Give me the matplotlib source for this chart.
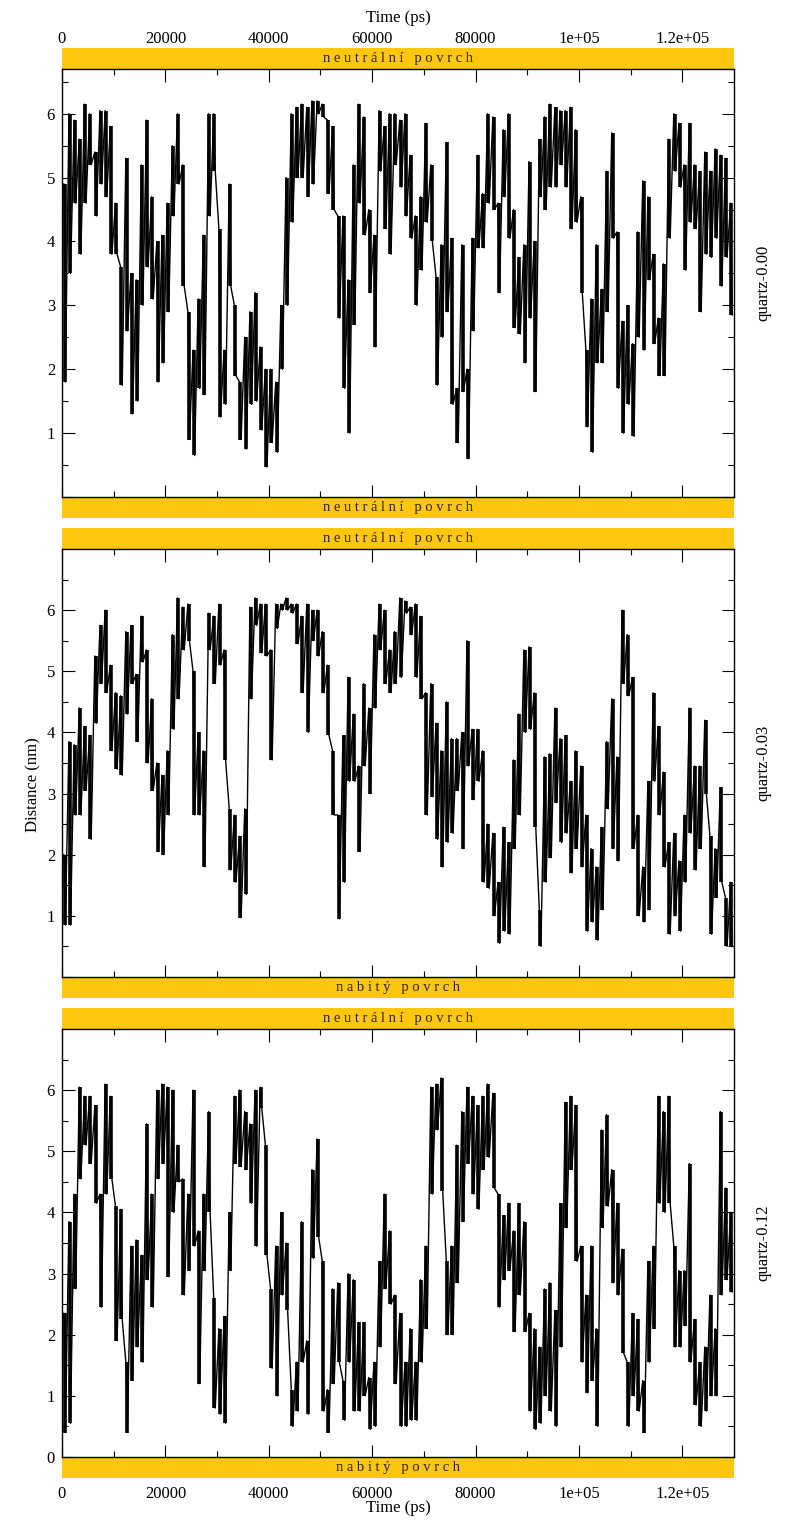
import numpy as np
import matplotlib
matplotlib.use('Agg')
import matplotlib.pyplot as plt
from matplotlib.patches import Rectangle

plt.rcParams['font.family'] = ['Liberation Serif', 'DejaVu Serif']

# trace read column by column (1000 ps per column): lowest and highest value in each column
step_ps = 1000

p1_lo = [1.8, 3.5, 4.6, 3.8, 4.6, 5.2, 4.4, 4.9, 4.7, 3.8,
         3.8, 1.75, 2.6, 1.3, 1.5, 3.0, 3.6, 3.1, 1.8, 2.1,
         2.9, 4.4, 4.9, 3.3, 0.9, 0.65, 1.7, 1.6, 4.4, 5.1,
         1.25, 1.45, 3.3, 1.9, 0.9, 0.75, 1.45, 1.5, 1.05, 0.47,
         0.85, 0.7, 2.0, 3.0, 4.3, 5.0, 5.0, 4.7, 4.9, 6.0,
         5.95, 4.75, 4.5, 2.8, 1.7, 1.0, 2.7, 4.6, 4.1, 3.2,
         2.35, 5.1, 4.2, 3.8, 5.2, 4.85, 4.4, 4.05, 3.0, 3.55,
         4.3, 4.0, 1.75, 2.5, 2.9, 1.45, 0.85, 1.65, 0.6, 2.6,
         3.9, 3.9, 4.6, 4.5, 3.2, 4.7, 4.05, 2.65, 2.55, 2.1,
         2.8, 1.65, 4.7, 4.5, 4.85, 4.85, 5.2, 4.85, 4.2, 4.3,
         3.2, 1.1, 0.7, 2.1, 2.1, 2.9, 4.05, 1.7, 1.0, 1.45,
         0.95, 2.5, 2.3, 3.4, 2.4, 1.9, 1.9, 4.05, 5.1, 4.85,
         3.55, 4.3, 4.2, 2.9, 3.8, 3.75, 4.05, 3.3, 3.75, 2.85]
p1_hi = [4.9, 6.0, 5.9, 5.6, 6.15, 6.0, 5.4, 6.05, 6.05, 5.8,
         4.6, 3.6, 5.3, 3.5, 3.4, 5.2, 5.9, 4.7, 4.0, 4.1,
         4.6, 5.5, 6.0, 5.2, 2.9, 2.3, 3.1, 4.1, 6.0, 6.0,
         4.2, 2.3, 4.9, 3.0, 1.8, 2.5, 2.9, 3.2, 2.35, 2.0,
         2.0, 1.8, 3.0, 5.0, 6.0, 6.1, 6.15, 6.1, 6.2, 6.2,
         6.15, 5.9, 5.8, 4.4, 4.4, 3.4, 5.2, 6.15, 5.95, 4.5,
         4.1, 6.05, 5.8, 6.0, 6.0, 5.9, 6.0, 5.35, 4.4, 4.7,
         5.85, 5.2, 3.45, 3.95, 5.55, 4.05, 1.7, 3.95, 2.0, 4.05,
         5.35, 4.75, 6.0, 5.95, 4.6, 5.75, 6.0, 4.5, 3.75, 3.95,
         5.25, 4.0, 5.6, 5.95, 6.15, 6.1, 6.05, 6.05, 6.1, 5.75,
         4.7, 2.3, 3.1, 3.95, 3.25, 5.1, 5.7, 4.15, 2.75, 3.0,
         2.4, 4.15, 4.95, 4.7, 3.8, 2.8, 3.65, 5.6, 6.0, 5.85,
         5.2, 5.85, 5.2, 5.1, 5.4, 5.1, 5.45, 5.35, 5.3, 4.6]

p2_lo = [0.85, 0.85, 2.65, 2.65, 3.05, 2.25, 4.15, 4.8, 4.65, 3.7,
         3.4, 3.3, 4.3, 4.8, 3.85, 5.15, 3.5, 3.05, 2.05, 2.0,
         2.65, 4.05, 4.55, 5.35, 5.5, 2.65, 2.65, 1.8, 5.35, 4.8,
         5.1, 3.55, 1.75, 1.55, 0.97, 1.35, 4.55, 5.75, 5.3, 5.25,
         3.55, 5.7, 6.0, 6.0, 5.95, 5.45, 4.65, 4.0, 5.5, 5.25,
         4.65, 3.95, 2.65, 0.95, 1.55, 3.2, 3.2, 2.05, 3.45, 3.0,
         4.4, 5.35, 4.8, 4.65, 4.8, 4.9, 5.95, 5.6, 4.9, 4.55,
         2.65, 2.95, 2.25, 1.8, 2.2, 2.35, 3.05, 2.1, 3.45, 2.9,
         3.2, 1.55, 1.45, 1.0, 0.55, 0.75, 0.7, 2.1, 2.65, 4.0,
         4.05, 2.45, 0.5, 1.55, 1.95, 2.85, 2.2, 2.35, 1.7, 2.1,
         1.8, 0.75, 0.9, 0.6, 1.1, 2.75, 2.1, 1.9, 4.8, 4.6,
         2.1, 1.0, 0.9, 1.1, 3.2, 2.65, 1.8, 0.7, 1.0, 0.75,
         1.55, 2.35, 1.75, 2.1, 3.0, 0.7, 1.3, 1.55, 0.5, 0.5]
p2_hi = [2.0, 3.85, 3.8, 4.4, 4.1, 3.95, 5.25, 5.75, 6.0, 5.1,
         4.65, 4.6, 5.65, 5.75, 4.95, 5.9, 5.35, 4.55, 3.5, 3.3,
         3.7, 5.6, 6.2, 6.05, 6.1, 5.0, 4.0, 3.7, 5.95, 5.9,
         6.1, 5.35, 2.75, 2.65, 2.3, 2.75, 6.05, 6.2, 6.1, 6.1,
         5.35, 6.1, 6.1, 6.2, 6.1, 6.1, 5.9, 6.1, 6.0, 6.0,
         5.65, 5.1, 3.7, 2.65, 3.95, 4.9, 4.3, 3.45, 4.8, 4.4,
         5.6, 6.1, 6.0, 5.35, 5.65, 6.2, 6.15, 6.05, 6.1, 5.9,
         4.65, 4.8, 4.15, 3.7, 4.5, 3.9, 3.9, 4.0, 5.5, 4.05,
         4.05, 3.7, 2.5, 2.35, 1.55, 2.45, 2.2, 3.55, 4.3, 5.35,
         5.4, 4.65, 1.1, 3.6, 3.65, 4.4, 3.9, 3.95, 3.2, 3.7,
         3.45, 2.65, 2.1, 1.8, 2.45, 3.85, 4.55, 3.6, 6.0, 5.6,
         4.9, 2.65, 1.8, 3.2, 4.65, 4.1, 3.35, 2.2, 2.35, 1.9,
         2.65, 4.4, 3.45, 3.45, 4.2, 2.3, 2.1, 3.1, 1.3, 1.55]

p3_lo = [0.4, 0.55, 2.75, 4.55, 5.1, 4.8, 4.15, 2.45, 4.3, 4.55,
         1.9, 2.25, 0.4, 1.25, 1.8, 1.55, 2.9, 2.45, 4.55, 4.8,
         2.95, 4.0, 4.5, 2.65, 3.05, 3.45, 1.2, 3.05, 4.0, 0.8,
         0.7, 0.55, 3.05, 4.8, 4.75, 4.7, 4.15, 3.45, 5.7, 3.3,
         1.45, 1.0, 2.65, 2.4, 0.5, 0.75, 1.55, 0.7, 3.25, 3.6,
         0.75, 0.4, 1.2, 1.55, 0.6, 1.55, 0.75, 0.75, 1.0, 0.45,
         0.5, 1.8, 2.75, 2.5, 1.2, 0.5, 0.5, 0.6, 0.6, 1.55,
         2.1, 4.3, 5.35, 4.35, 2.0, 2.0, 2.85, 3.85, 4.8, 4.3,
         4.05, 4.7, 4.9, 4.4, 2.45, 2.9, 3.05, 2.05, 2.65, 2.05,
         0.75, 0.45, 0.55, 1.0, 0.75, 0.5, 1.8, 3.75, 4.7, 3.2,
         1.55, 1.05, 1.25, 0.5, 3.75, 4.1, 2.85, 2.65, 1.7, 0.5,
         1.0, 0.75, 0.4, 1.55, 2.1, 4.15, 4.0, 4.15, 1.8, 1.8,
         2.15, 1.55, 0.85, 0.5, 0.75, 1.0, 1.0, 2.65, 2.9, 2.7]
p3_hi = [2.35, 3.85, 4.3, 6.05, 5.9, 5.9, 5.75, 4.3, 6.1, 5.9,
         4.1, 4.05, 1.55, 3.45, 3.55, 3.3, 5.45, 4.3, 6.0, 6.1,
         6.05, 6.0, 5.1, 4.55, 4.3, 6.0, 3.7, 4.3, 5.65, 2.6,
         2.1, 2.3, 4.0, 5.9, 6.0, 5.65, 5.45, 6.0, 6.05, 5.1,
         2.75, 3.45, 4.0, 3.5, 1.1, 1.55, 3.85, 1.9, 4.7, 5.2,
         3.2, 1.1, 2.75, 2.85, 1.25, 3.0, 2.9, 2.2, 2.2, 1.3,
         1.55, 3.2, 4.3, 3.7, 2.65, 2.35, 1.55, 2.1, 1.55, 2.9,
         3.45, 6.05, 6.1, 6.2, 3.2, 3.45, 5.1, 5.65, 6.05, 5.9,
         5.75, 5.9, 6.1, 5.95, 4.3, 3.95, 4.15, 3.7, 4.15, 3.85,
         2.35, 2.1, 1.8, 2.75, 2.85, 2.4, 4.15, 5.8, 5.9, 5.75,
         3.45, 2.65, 3.45, 2.1, 5.35, 5.6, 4.7, 4.15, 3.4, 1.55,
         2.35, 2.25, 1.25, 3.2, 3.45, 5.9, 5.65, 5.9, 3.45, 3.05,
         3.05, 4.8, 2.25, 1.55, 1.8, 2.65, 2.1, 5.65, 4.4, 4.0]

panel_names = ['quartz-0.00', 'quartz-0.03', 'quartz-0.12']
top_bands = ['neutrální povrch', 'neutrální povrch', 'neutrální povrch']
bottom_bands = ['neutrální povrch', 'nabitý povrch', 'nabitý povrch']
y_tops = [6.7, 7.0, 7.0]
x_ticks = [0, 20000, 40000, 60000, 80000, 100000, 120000]
x_ticklabels = ['0', '20000', '40000', '60000', '80000', '1e+05', '1.2e+05']

series = [(p1_lo, p1_hi), (p2_lo, p2_hi), (p3_lo, p3_hi)]

band_color = '#FCC70D'
W, H = 804, 1524
fig = plt.figure(figsize=(W / 100, H / 100), dpi=100)

ax_left, ax_right = 62, 734
ax_tops = [69, 549, 1029]
ax_h = 428
band_px = 21


def spaced(s):
    return '   '.join(' '.join(w) for w in s.split(' '))


for i, (lo, hi) in enumerate(series):
    top = ax_tops[i]
    ax = fig.add_axes([ax_left / W, 1 - (top + ax_h) / H, (ax_right - ax_left) / W, ax_h / H])

    lo = np.array(lo)
    hi = np.array(hi)
    n = len(lo)
    t = np.arange(n) * step_ps + step_ps / 2
    # dense trace: each 1000 ps column covers its min..max range, joined by the trace line
    ax.vlines(t, lo, hi, color='black', lw=2.6)
    tt = np.empty(2 * n)
    yy = np.empty(2 * n)
    tt[0::2] = t - 150
    tt[1::2] = t + 150
    yy[0::2] = hi
    yy[1::2] = lo
    ax.plot(tt, yy, color='black', lw=1.0)

    ax.set_xlim(0, 130000)
    ax.set_ylim(0, y_tops[i])
    ax.set_xticks(x_ticks)
    ax.set_xticks(np.arange(10000, 130000, 20000), minor=True)
    yt = list(range(0, 7))
    ax.set_yticks(yt)
    ax.set_yticklabels([str(v) if (v > 0 or i == 2) else '' for v in yt])
    ax.set_yticks(np.arange(0.5, y_tops[i], 1.0), minor=True)
    ax.tick_params(which='both', direction='in', top=True, right=True, width=0.8, labelsize=12)
    ax.tick_params(which='major', length=9)
    ax.tick_params(which='minor', length=4.5)
    ax.tick_params(axis='y', pad=5)
    for sp in ax.spines.values():
        sp.set_linewidth(1.0)

    if i == 0:
        ax.set_xticklabels(x_ticklabels)
        ax.tick_params(axis='x', labeltop=True, labelbottom=False, pad=16)
    elif i == 2:
        ax.set_xticklabels(x_ticklabels)
        ax.tick_params(axis='x', labeltop=False, labelbottom=True, pad=21)
    else:
        ax.set_xticklabels([])

    bh = band_px / ax_h
    for y0, label in [(1.0, top_bands[i]), (-bh, bottom_bands[i])]:
        ax.add_patch(Rectangle((0, y0), 1, bh, transform=ax.transAxes, clip_on=False,
                               facecolor=band_color, edgecolor='none', zorder=0.5))
        ax.text(0.5, y0 + bh / 2, spaced(label), transform=ax.transAxes,
                ha='center', va='center', fontsize=10.5, color='#2a1a00')

    fig.text(763 / W, 1 - (top + ax_h / 2) / H, panel_names[i], rotation=90,
             ha='center', va='center', fontsize=12)

fig.text(398 / W, 1 - 18 / H, 'Time (ps)', ha='center', va='center', fontsize=12)
fig.text(398 / W, 1 - 1508 / H, 'Time (ps)', ha='center', va='center', fontsize=12)
fig.text(33 / W, 1 - 785 / H, 'Distance (nm)', rotation=90, ha='center', va='center', fontsize=12)

fig.savefig('out.png', dpi=100)
